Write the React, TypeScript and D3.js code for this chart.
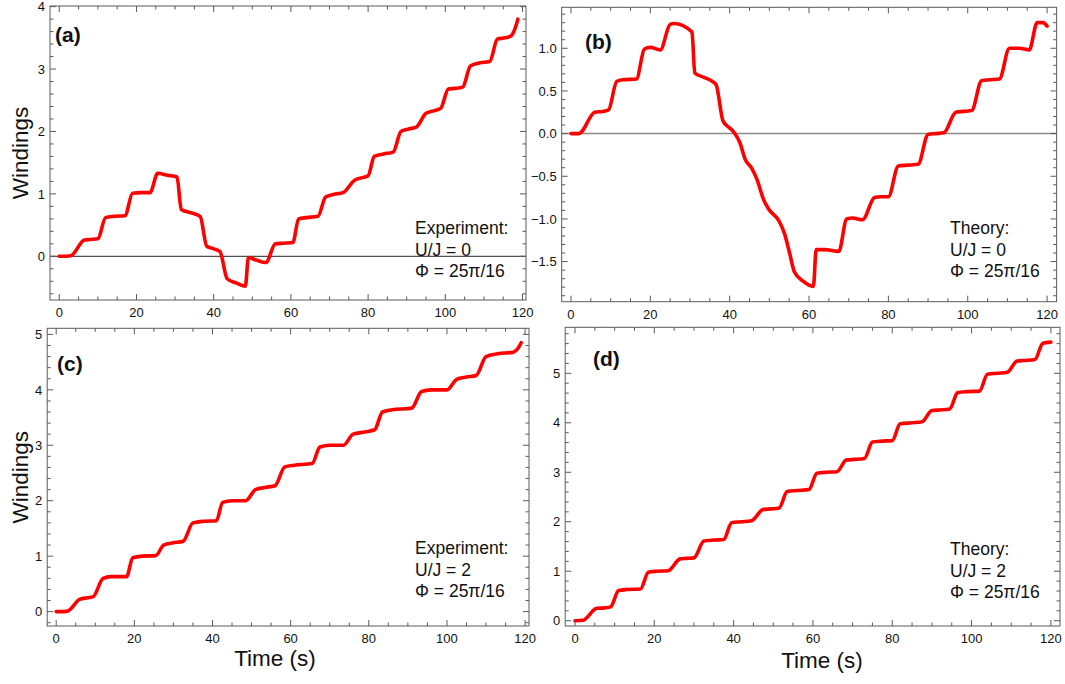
import React from 'react';
import * as d3 from 'd3';

// ---------- data ----------
const timeA = [0, 1, 3, 6.5, 8, 10, 12, 14, 17, 19, 21, 23.5, 25.5, 28, 30.5, 31.6, 34, 36.5, 38.2, 40, 41.6, 43.5, 46, 48.2, 49, 51, 53.5, 56, 58, 60.5, 62, 64, 67, 69, 71, 73.5, 76.5, 78.5, 80, 81.6, 84, 86.5, 88.5, 90.5, 92.5, 95, 97, 98.8, 100.8, 102.5, 104.5, 106.5, 109, 111.5, 113.5, 115.5, 117, 118, 118.8];
const windA = [0, 0, 0.01, 0.26, 0.27, 0.28, 0.62, 0.64, 0.65, 1.01, 1.02, 1.02, 1.33, 1.3, 1.27, 0.75, 0.7, 0.64, 0.16, 0.12, 0.08, -0.36, -0.43, -0.48, -0.02, -0.06, -0.1, 0.2, 0.21, 0.22, 0.6, 0.62, 0.64, 0.95, 0.99, 1.02, 1.22, 1.26, 1.29, 1.6, 1.64, 1.67, 2.0, 2.04, 2.07, 2.29, 2.33, 2.37, 2.68, 2.69, 2.71, 3.05, 3.1, 3.12, 3.48, 3.5, 3.53, 3.64, 3.8];

const timeB = [0, 2, 6, 8, 9.5, 11.5, 13, 16.5, 18.5, 20, 22.5, 25, 26, 30.5, 31.2, 33.5, 35.7, 36.6, 38.3, 39.6, 40.4, 41.3, 42.6, 43.9, 45.6, 46.9, 48.6, 49.9, 52.5, 53.8, 55.1, 56.3, 58.5, 61.1, 61.8, 64, 67.5, 69.5, 71, 73.5, 76.5, 78, 80, 82.5, 85, 87.5, 90, 92, 94, 97, 99, 101, 103.5, 105.5, 108, 110.5, 113, 115.5, 117.5, 119, 120];
const windB = [0, 0, 0.25, 0.26, 0.28, 0.61, 0.63, 0.64, 0.99, 1.01, 0.98, 1.28, 1.29, 1.19, 0.71, 0.66, 0.61, 0.57, 0.15, 0.08, 0.05, 0.0, -0.11, -0.3, -0.41, -0.54, -0.78, -0.89, -1.03, -1.17, -1.4, -1.62, -1.73, -1.79, -1.36, -1.36, -1.38, -1.0, -0.99, -1.01, -0.75, -0.74, -0.74, -0.38, -0.37, -0.36, -0.01, 0.0, 0.01, 0.25, 0.26, 0.27, 0.62, 0.63, 0.64, 1.0, 1.0, 0.98, 1.3, 1.3, 1.26];

const timeC = [0, 2, 3, 6, 8, 9.5, 12, 14, 18, 19.6, 22, 25.5, 27.5, 30, 32.5, 35, 38, 41, 42.6, 45, 48.5, 51, 53.5, 56, 58.5, 61, 65.5, 67.5, 70, 73.5, 76, 79, 81.5, 83.5, 86, 91, 93.5, 96, 100, 102.5, 105, 107.5, 110, 113, 117, 118.2, 119];
const windC = [0, 0, 0.01, 0.22, 0.25, 0.27, 0.6, 0.63, 0.63, 0.97, 1.0, 1.01, 1.2, 1.24, 1.27, 1.6, 1.63, 1.64, 1.97, 2.0, 2.0, 2.2, 2.24, 2.27, 2.61, 2.64, 2.67, 2.97, 3.0, 3.0, 3.2, 3.24, 3.28, 3.6, 3.64, 3.67, 3.97, 4.0, 4.0, 4.19, 4.23, 4.26, 4.6, 4.65, 4.68, 4.75, 4.85];

const timeD = [0, 2, 5.5, 7.5, 9, 11, 13, 16.5, 18.5, 20.5, 23.5, 26.5, 28, 30, 32.5, 35, 37.5, 39.5, 42, 44.5, 47.5, 49.5, 51.5, 53.5, 56, 59, 61, 63.5, 66, 68.5, 70.5, 73, 75, 77.5, 80, 82, 85, 87.5, 90, 92, 94.5, 96.5, 99, 102, 104, 106.5, 109, 111.5, 113.5, 116, 118, 120];
const windD = [0, 0.01, 0.25, 0.26, 0.28, 0.61, 0.63, 0.64, 0.98, 1.0, 1.01, 1.25, 1.26, 1.27, 1.61, 1.63, 1.64, 1.98, 2.0, 2.02, 2.25, 2.26, 2.28, 2.61, 2.63, 2.65, 2.98, 3.0, 3.01, 3.25, 3.26, 3.28, 3.61, 3.63, 3.64, 3.98, 4.0, 4.02, 4.25, 4.26, 4.28, 4.61, 4.63, 4.64, 4.98, 5.0, 5.02, 5.25, 5.26, 5.28, 5.61, 5.63];

const xTicks = [0, 20, 40, 60, 80, 100, 120];
const yTicksA = [0, 1, 2, 3, 4];
const yTicksB = [-1.5, -1.0, -0.5, 0.0, 0.5, 1.0];
const yTicksC = [0, 1, 2, 3, 4, 5];
const yTicksD = [0, 1, 2, 3, 4, 5];

const notesA = ['Experiment:', 'U/J = 0', 'Φ = 25π/16'];
const notesB = ['Theory:', 'U/J = 0', 'Φ = 25π/16'];
const notesC = ['Experiment:', 'U/J = 2', 'Φ = 25π/16'];
const notesD = ['Theory:', 'U/J = 2', 'Φ = 25π/16'];

const FONT = '"Liberation Sans", Arial, Helvetica, sans-serif';
const FRAME = '#5a5a5a';

const fmtInt = (d: number) => String(d).replace('-', '−');
const fmtOne = (d: number) => d3.format('.1f')(d).replace('-', '−');

type Cfg = {
  key: string; t: number[]; w: number[];
  x0: number; x1: number; y0: number; y1: number;
  xDom: [number, number]; yDom: [number, number];
  yTicks: number[]; yMinor: number; fmt: (d: number) => string;
  zero: string | null; zeroW: number;
  label: string; lx: number; ly: number;
  notes: string[]; nx: number; ny: number;
  yTitle: boolean; xTitle: boolean; xTitleX: number; xTitleY: number;
};

const panels: Cfg[] = [
  { key: 'a', t: timeA, w: windA, x0: 50, x1: 526, y0: 6, y1: 300, xDom: [-2.4, 120.9], yDom: [-0.7, 4.01], yTicks: yTicksA, yMinor: 0.2, fmt: fmtInt, zero: '#222', zeroW: 1, label: '(a)', lx: 55, ly: 42, notes: notesA, nx: 415, ny: 234, yTitle: true, xTitle: false, xTitleX: 0, xTitleY: 0 },
  { key: 'b', t: timeB, w: windB, x0: 561.7, x1: 1056.6, y0: 7.3, y1: 301.7, xDom: [-2.34, 122.4], yDom: [-1.97, 1.48], yTicks: yTicksB, yMinor: 0.1, fmt: fmtOne, zero: '#8a8a8a', zeroW: 1.5, label: '(b)', lx: 585, ly: 49, notes: notesB, nx: 950, ny: 234, yTitle: false, xTitle: false, xTitleX: 0, xTitleY: 0 },
  { key: 'c', t: timeC, w: windC, x0: 47.2, x1: 529, y0: 328.3, y1: 626, xDom: [-2.3, 121.0], yDom: [-0.26, 5.11], yTicks: yTicksC, yMinor: 0.2, fmt: fmtInt, zero: null, zeroW: 0, label: '(c)', lx: 57, ly: 371, notes: notesC, nx: 415, ny: 554, yTitle: true, xTitle: true, xTitleX: 275, xTitleY: 666 },
  { key: 'd', t: timeD, w: windD, x0: 565.2, x1: 1060, y0: 327.3, y1: 626, xDom: [-2.47, 122.3], yDom: [-0.107, 5.93], yTicks: yTicksD, yMinor: 0.2, fmt: fmtInt, zero: null, zeroW: 0, label: '(d)', lx: 593, ly: 366, notes: notesD, nx: 950, ny: 555, yTitle: false, xTitle: true, xTitleX: 822, xTitleY: 668 },
];

function Panel({ c }: { c: Cfg }) {
  const x = d3.scaleLinear().domain(c.xDom).range([c.x0, c.x1]);
  const y = d3.scaleLinear().domain(c.yDom).range([c.y1, c.y0]);
  const pts = c.t.map((t, i) => [t, c.w[i]] as [number, number]);
  const line = d3.line<[number, number]>().x(d => x(d[0])).y(d => y(d[1])).curve(d3.curveMonotoneX);
  const xMinor = d3.range(0, 121, 5).filter(v => xTicks.indexOf(v) < 0);
  const lo = Math.ceil(c.yDom[0] / c.yMinor - 1e-6), hi = Math.floor(c.yDom[1] / c.yMinor + 1e-6);
  const yMinor = d3.range(lo, hi + 1).map(i => i * c.yMinor).filter(v => !c.yTicks.some(m => Math.abs(m - v) < 1e-6));
  const MJ = 6, MN = 3.5;
  return (
    <g>
      <defs>
        <clipPath id={'clip' + c.key}><rect x={c.x0} y={c.y0} width={c.x1 - c.x0} height={c.y1 - c.y0} /></clipPath>
      </defs>
      {c.zero && <line x1={c.x0} x2={c.x1} y1={y(0)} y2={y(0)} stroke={c.zero} strokeWidth={c.zeroW} />}
      <path d={line(pts) || ''} fill="none" stroke="#ff0000" strokeWidth={3.6} strokeLinejoin="round" strokeLinecap="round" clipPath={`url(#clip${c.key})`} />
      <rect x={c.x0} y={c.y0} width={c.x1 - c.x0} height={c.y1 - c.y0} fill="none" stroke={FRAME} strokeWidth={1} />
      {xTicks.map(v => (
        <g key={'xt' + v}>
          <line x1={x(v)} x2={x(v)} y1={c.y1} y2={c.y1 - MJ} stroke={FRAME} />
          <line x1={x(v)} x2={x(v)} y1={c.y0} y2={c.y0 + MJ} stroke={FRAME} />
          <text x={x(v)} y={c.y1 + 17} textAnchor="middle" fontSize={13} fontFamily={FONT} fill="#111">{v}</text>
        </g>
      ))}
      {xMinor.map(v => (
        <g key={'xm' + v}>
          <line x1={x(v)} x2={x(v)} y1={c.y1} y2={c.y1 - MN} stroke={FRAME} />
          <line x1={x(v)} x2={x(v)} y1={c.y0} y2={c.y0 + MN} stroke={FRAME} />
        </g>
      ))}
      {c.yTicks.map(v => (
        <g key={'yt' + v}>
          <line x1={c.x0} x2={c.x0 + MJ} y1={y(v)} y2={y(v)} stroke={FRAME} />
          <line x1={c.x1} x2={c.x1 - MJ} y1={y(v)} y2={y(v)} stroke={FRAME} />
          <text x={c.x0 - 5} y={y(v)} dy="0.36em" textAnchor="end" fontSize={13} fontFamily={FONT} fill="#111">{c.fmt(v)}</text>
        </g>
      ))}
      {yMinor.map(v => (
        <g key={'ym' + v}>
          <line x1={c.x0} x2={c.x0 + MN} y1={y(v)} y2={y(v)} stroke={FRAME} />
          <line x1={c.x1} x2={c.x1 - MN} y1={y(v)} y2={y(v)} stroke={FRAME} />
        </g>
      ))}
      <text x={c.lx} y={c.ly} fontSize={21} fontWeight="bold" fontFamily={FONT} fill="#111">{c.label}</text>
      {c.notes.map((s, i) => (
        <text key={'n' + i} x={c.nx} y={c.ny + i * 21.5} fontSize={17.5} fontFamily={FONT} fill="#111">{s}</text>
      ))}
      {c.yTitle && (
        <text transform={`translate(28,${(c.y0 + c.y1) / 2}) rotate(-90)`} textAnchor="middle" fontSize={22.5} fontFamily={FONT} fill="#111">Windings</text>
      )}
      {c.xTitle && (
        <text x={c.xTitleX} y={c.xTitleY} textAnchor="middle" fontSize={22.5} fontFamily={FONT} fill="#111">Time (s)</text>
      )}
    </g>
  );
}

export default function App() {
  return (
    <svg width={1065} height={684} style={{ position: 'absolute', left: 0, top: 0, background: '#fff' }}>
      <rect width={1065} height={684} fill="#fff" />
      {panels.map(c => <Panel key={c.key} c={c} />)}
    </svg>
  );
}
